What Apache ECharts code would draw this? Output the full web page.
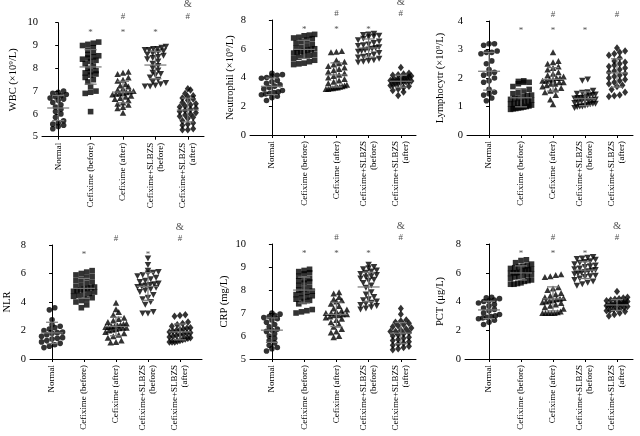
<!DOCTYPE html>
<html>
<head>
<meta charset="utf-8">
<script src="https://cdn.jsdelivr.net/npm/echarts@6/dist/echarts.min.js"></script>
<style>html,body{margin:0;background:#fff}#chart{width:640px;height:436px}</style>
</head>
<body>
<div id="chart"></div>
<script>
/* group labels and markers */
var groups = ['Normal', 'Cefixime (before)', 'Cefixime (after)', 'Cefixime+SLBZS\n(before)', 'Cefixime+SLBZS\n(after)'];
var symbols = ['circle', 'rect', 'triangle', 'triangle', 'diamond'];
var symbolRotates = [0, 0, 0, 180, 0];

/* values: [normal, before, after, slbzs before, slbzs after] */
var wbc = [
  [7.0, 6.95, 6.9, 6.85, 6.8, 6.75, 6.7, 6.65, 6.6, 6.5, 6.4, 6.3, 6.2, 6.1, 6.0, 5.85, 5.7, 5.6, 5.55, 5.5, 5.45, 5.35],
  [9.15, 9.1, 9.05, 9.0, 8.9, 8.8, 8.7, 8.6, 8.55, 8.5, 8.45, 8.4, 8.35, 8.3, 8.2, 8.1, 8.0, 7.9, 7.85, 7.8, 7.75, 7.7, 7.6, 7.5, 7.4, 7.2, 7.0, 6.95, 6.9, 6.1],
  [7.85, 7.8, 7.75, 7.6, 7.5, 7.45, 7.3, 7.25, 7.2, 7.1, 7.05, 7.0, 6.98, 6.95, 6.92, 6.9, 6.88, 6.85, 6.8, 6.75, 6.7, 6.65, 6.6, 6.5, 6.45, 6.4, 6.3, 6.25, 6.05],
  [8.95, 8.9, 8.85, 8.85, 8.8, 8.8, 8.75, 8.7, 8.65, 8.6, 8.55, 8.5, 8.45, 8.4, 8.3, 8.2, 8.1, 8.0, 7.9, 7.8, 7.75, 7.7, 7.6, 7.5, 7.4, 7.35, 7.3, 7.25, 7.2, 7.2],
  [7.1, 7.05, 6.9, 6.8, 6.75, 6.7, 6.65, 6.6, 6.5, 6.45, 6.4, 6.35, 6.3, 6.25, 6.2, 6.15, 6.1, 6.05, 6.0, 5.95, 5.9, 5.85, 5.8, 5.7, 5.6, 5.55, 5.5, 5.35, 5.3, 5.3]
];
var neutrophil = [
  [4.3, 4.2, 4.15, 4.1, 4.0, 3.95, 3.8, 3.7, 3.6, 3.5, 3.4, 3.3, 3.2, 3.1, 3.0, 2.95, 2.9, 2.85, 2.8, 2.7, 2.6, 2.4],
  [7.0, 6.95, 6.9, 6.8, 6.75, 6.7, 6.6, 6.5, 6.4, 6.3, 6.2, 6.1, 6.05, 6.0, 5.95, 5.9, 5.85, 5.8, 5.75, 5.7, 5.6, 5.55, 5.5, 5.4, 5.3, 5.2, 5.1, 5.0, 4.95, 4.9],
  [5.85, 5.8, 5.75, 5.2, 5.1, 5.0, 4.9, 4.8, 4.7, 4.6, 4.5, 4.4, 4.3, 4.2, 4.1, 4.0, 3.9, 3.8, 3.7, 3.6, 3.5, 3.45, 3.4, 3.35, 3.3, 3.3, 3.25, 3.25, 3.2, 3.2],
  [7.05, 7.0, 6.95, 6.9, 6.85, 6.8, 6.7, 6.6, 6.5, 6.4, 6.3, 6.25, 6.2, 6.1, 6.05, 6.0, 5.95, 5.9, 5.85, 5.8, 5.7, 5.6, 5.5, 5.45, 5.4, 5.3, 5.2, 5.15, 5.1, 5.05],
  [4.7, 4.3, 4.25, 4.2, 4.15, 4.1, 4.05, 4.0, 3.95, 3.9, 3.9, 3.85, 3.85, 3.8, 3.8, 3.75, 3.75, 3.7, 3.7, 3.65, 3.6, 3.55, 3.5, 3.45, 3.4, 3.3, 3.2, 3.1, 3.0, 2.75]
];
var lymphocyte = [
  [3.2, 3.2, 3.15, 2.95, 2.9, 2.9, 2.85, 2.6, 2.5, 2.3, 2.2, 2.15, 2.1, 2.0, 1.9, 1.85, 1.6, 1.5, 1.45, 1.4, 1.3, 1.2],
  [1.9, 1.88, 1.85, 1.85, 1.8, 1.7, 1.6, 1.55, 1.5, 1.45, 1.4, 1.38, 1.35, 1.3, 1.28, 1.25, 1.22, 1.2, 1.18, 1.15, 1.12, 1.1, 1.08, 1.05, 1.02, 1.0, 0.98, 0.96, 0.95, 0.93, 0.92, 0.9],
  [2.9, 2.6, 2.55, 2.5, 2.4, 2.35, 2.3, 2.2, 2.15, 2.1, 2.05, 2.0, 2.0, 1.95, 1.95, 1.9, 1.9, 1.85, 1.85, 1.8, 1.8, 1.75, 1.7, 1.65, 1.6, 1.55, 1.5, 1.4, 1.25, 1.08],
  [1.95, 1.9, 1.55, 1.5, 1.48, 1.45, 1.42, 1.4, 1.38, 1.35, 1.32, 1.3, 1.3, 1.28, 1.25, 1.22, 1.2, 1.2, 1.18, 1.15, 1.12, 1.1, 1.1, 1.08, 1.05, 1.03, 1.0, 1.0, 0.98, 0.95],
  [3.05, 2.95, 2.9, 2.85, 2.8, 2.7, 2.6, 2.55, 2.5, 2.45, 2.4, 2.35, 2.3, 2.25, 2.2, 2.15, 2.1, 2.05, 2.0, 1.95, 1.9, 1.85, 1.8, 1.75, 1.7, 1.6, 1.5, 1.4, 1.38, 1.35]
];
var nlr = [
  [3.6, 3.45, 2.75, 2.4, 2.3, 2.2, 2.1, 2.0, 1.9, 1.85, 1.8, 1.7, 1.6, 1.5, 1.45, 1.4, 1.3, 1.2, 1.1, 1.0, 0.9, 0.8],
  [6.2, 6.1, 6.0, 5.9, 5.8, 5.7, 5.6, 5.5, 5.4, 5.3, 5.2, 5.1, 5.05, 5.0, 4.95, 4.9, 4.85, 4.8, 4.75, 4.7, 4.6, 4.5, 4.45, 4.4, 4.3, 4.2, 4.1, 4.0, 3.8, 3.6],
  [3.95, 3.5, 3.3, 3.1, 2.9, 2.8, 2.7, 2.6, 2.5, 2.45, 2.4, 2.35, 2.3, 2.3, 2.25, 2.25, 2.2, 2.2, 2.15, 2.1, 2.05, 2.0, 1.9, 1.8, 1.7, 1.6, 1.5, 1.3, 1.2, 1.15],
  [7.05, 6.6, 6.2, 6.1, 6.05, 6.0, 5.9, 5.8, 5.7, 5.6, 5.5, 5.4, 5.3, 5.25, 5.2, 5.15, 5.1, 5.05, 5.0, 4.9, 4.8, 4.7, 4.5, 4.3, 4.2, 4.0, 3.8, 3.3, 3.2, 3.2],
  [3.1, 3.05, 3.0, 2.6, 2.5, 2.4, 2.3, 2.2, 2.15, 2.1, 2.05, 2.0, 1.95, 1.9, 1.85, 1.8, 1.75, 1.7, 1.65, 1.6, 1.55, 1.5, 1.45, 1.4, 1.35, 1.3, 1.25, 1.2, 1.2, 1.2]
];
var crp = [
  [7.0, 6.95, 6.9, 6.85, 6.8, 6.75, 6.7, 6.6, 6.5, 6.4, 6.3, 6.25, 6.2, 6.1, 6.0, 5.9, 5.8, 5.7, 5.6, 5.5, 5.45, 5.35],
  [8.9, 8.85, 8.8, 8.75, 8.7, 8.6, 8.5, 8.45, 8.4, 8.35, 8.3, 8.2, 8.1, 8.05, 8.0, 7.95, 7.9, 7.85, 7.8, 7.75, 7.7, 7.65, 7.6, 7.55, 7.5, 7.4, 7.15, 7.1, 7.05, 7.0],
  [7.9, 7.85, 7.7, 7.6, 7.55, 7.5, 7.4, 7.3, 7.2, 7.15, 7.1, 7.05, 7.0, 7.0, 6.95, 6.95, 6.9, 6.9, 6.85, 6.8, 6.75, 6.7, 6.6, 6.5, 6.4, 6.3, 6.2, 6.15, 6.0, 5.95],
  [9.1, 9.0, 8.95, 8.9, 8.85, 8.8, 8.75, 8.7, 8.65, 8.6, 8.55, 8.5, 8.45, 8.4, 8.3, 8.2, 8.1, 7.9, 7.8, 7.7, 7.6, 7.55, 7.5, 7.45, 7.4, 7.35, 7.3, 7.25, 7.2, 7.15],
  [7.2, 6.95, 6.7, 6.65, 6.6, 6.55, 6.5, 6.45, 6.4, 6.35, 6.3, 6.25, 6.2, 6.2, 6.15, 6.1, 6.05, 6.0, 5.95, 5.9, 5.85, 5.8, 5.75, 5.7, 5.65, 5.6, 5.55, 5.5, 5.45, 5.4]
];
var pct = [
  [4.3, 4.25, 4.2, 4.1, 4.05, 4.0, 3.9, 3.8, 3.7, 3.55, 3.45, 3.35, 3.2, 3.1, 3.0, 2.95, 2.9, 2.85, 2.8, 2.7, 2.55, 2.4],
  [6.9, 6.85, 6.7, 6.6, 6.5, 6.45, 6.4, 6.35, 6.3, 6.25, 6.2, 6.15, 6.1, 6.05, 6.0, 6.0, 5.95, 5.9, 5.85, 5.8, 5.75, 5.7, 5.6, 5.5, 5.45, 5.4, 5.3, 5.25, 5.2, 5.2],
  [5.9, 5.85, 5.75, 5.7, 5.0, 4.9, 4.8, 4.6, 4.5, 4.4, 4.3, 4.25, 4.2, 4.15, 4.1, 4.05, 4.0, 3.95, 3.9, 3.8, 3.7, 3.6, 3.5, 3.3, 3.25, 3.2, 3.2, 3.2, 3.2, 3.2],
  [7.1, 7.05, 7.0, 6.95, 6.9, 6.8, 6.75, 6.7, 6.6, 6.5, 6.45, 6.4, 6.3, 6.25, 6.2, 6.15, 6.1, 6.05, 6.0, 5.95, 5.9, 5.8, 5.75, 5.7, 5.6, 5.5, 5.4, 5.3, 5.2, 5.1],
  [4.7, 4.3, 4.25, 4.2, 4.15, 4.1, 4.05, 4.0, 3.95, 3.9, 3.9, 3.85, 3.85, 3.8, 3.8, 3.75, 3.75, 3.7, 3.7, 3.65, 3.6, 3.55, 3.5, 3.45, 3.4, 3.35, 3.3, 3.2, 3.1, 3.0]
];

/* significance marks per group: * vs normal, # vs before, & vs cefixime after */
var wbcMarks = ['', '*', '*#', '*', '#&'];
var neutrophilMarks = ['', '*', '*#', '*', '#&'];
var lymphocyteMarks = ['', '*', '*#', '*', '#'];
var nlrMarks = ['', '*', '#', '*', '#&'];
var crpMarks = ['', '*', '*#', '*', '#&'];
var pctMarks = ['', '*', '*#', '*', '#&'];

/* panel layout */
var panels = [
  { name: 'WBC (×10⁹/L)', data: wbc, marks: wbcMarks, min: 5, max: 10, interval: 1,
    left: 42, top: 22.7, width: 162, height: 114, xMin: -0.5, xMax: 4.5, nameGap: 23 },
  { name: 'Neutrophil (×10⁹/L)', data: neutrophil, marks: neutrophilMarks, min: 0, max: 8, interval: 2,
    left: 250, top: 20, width: 166, height: 115, xMin: -0.68, xMax: 4.47, nameGap: 14 },
  { name: 'Lymphocytr (×10⁹/L)', data: lymphocyte, marks: lymphocyteMarks, min: 0, max: 4, interval: 1,
    left: 467, top: 21, width: 166, height: 114, xMin: -0.69, xMax: 4.5, nameGap: 21 },
  { name: 'NLR', data: nlr, marks: nlrMarks, min: 0, max: 8, interval: 2,
    left: 30, top: 245, width: 172, height: 114, xMin: -0.69, xMax: 4.69, nameGap: 17 },
  { name: 'CRP (mg/L)', data: crp, marks: crpMarks, min: 5, max: 10, interval: 1,
    left: 250, top: 244, width: 166, height: 115, xMin: -0.68, xMax: 4.47, nameGap: 20 },
  { name: 'PCT (μg/L)', data: pct, marks: pctMarks, min: 0, max: 8, interval: 2,
    left: 465, top: 244, width: 168, height: 115, xMin: -0.75, xMax: 4.5, nameGap: 19 }
];

var markStyle = {
  '*': { offset: [0, 10], size: 9 },
  '#': { offset: [0, -6.5], size: 9 },
  '&': { offset: [0, -18], size: 10.5 }
};

/* scatter-dot spread: close values share a row and sit side by side */
function swarm(values, pxPerY, rowPx, stepPx, maxPx) {
  var order = values.map(function (v, i) { return i; })
    .sort(function (a, b) { return values[a] - values[b]; });
  var rows = [], cur = null, xs = [];
  order.forEach(function (i) {
    if (!cur || (values[i] - values[cur[0]]) * pxPerY >= rowPx) { cur = []; rows.push(cur); }
    cur.push(i);
  });
  rows.forEach(function (ids) {
    var n = ids.length;
    var step = n > 1 ? Math.min(stepPx, maxPx / (n - 1)) : 0;
    ids.forEach(function (id, j) { xs[id] = (j - (n - 1) / 2) * step; });
  });
  return xs;
}

function meanSd(arr) {
  var m = arr.reduce(function (s, v) { return s + v; }, 0) / arr.length;
  var v = arr.reduce(function (s, x) { return s + (x - m) * (x - m); }, 0) / (arr.length - 1);
  return [m, Math.sqrt(v)];
}

var font = 'Liberation Serif';
var grids = [], xAxes = [], yAxes = [], series = [];

panels.forEach(function (p, pi) {
  grids.push({ left: p.left, top: p.top, width: p.width, height: p.height });
  xAxes.push({
    gridIndex: pi, type: 'value', min: p.xMin, max: p.xMax,
    axisLine: { show: true, lineStyle: { color: '#000', width: 1 } },
    axisTick: { show: true, customValues: [0, 1, 2, 3, 4], length: 3, lineStyle: { color: '#000' } },
    axisLabel: {
      customValues: [0, 1, 2, 3, 4], rotate: 90, margin: 6,
      fontFamily: font, fontSize: 9, lineHeight: 10, color: '#000',
      formatter: function (v) { return groups[Math.round(v)] || ''; }
    },
    splitLine: { show: false }
  });
  yAxes.push({
    gridIndex: pi, type: 'value', min: p.min, max: p.max, interval: p.interval,
    name: p.name, nameLocation: 'middle', nameRotate: 90, nameGap: p.nameGap,
    nameTextStyle: { fontFamily: font, fontSize: 10.5, color: '#000' },
    axisLine: { show: true, lineStyle: { color: '#000', width: 1 } },
    axisTick: { show: true, length: 3, lineStyle: { color: '#000' } },
    axisLabel: { fontFamily: font, fontSize: 10.5, color: '#000', margin: 4 },
    splitLine: { show: false }
  });

  var xPx = p.width / (p.xMax - p.xMin);
  var yPx = p.height / (p.max - p.min);
  var stats = [];

  p.data.forEach(function (vals, g) {
    var offs = swarm(vals, yPx, 4.5, 5.4, 21);
    series.push({
      type: 'scatter', xAxisIndex: pi, yAxisIndex: pi,
      symbol: symbols[g], symbolRotate: symbolRotates[g],
      symbolSize: g === 4 ? [6, 7.5] : (g === 2 || g === 3 ? [6.5, 6] : 5.6),
      itemStyle: { color: '#000' },
      data: vals.map(function (v, i) { return [g + offs[i] / xPx, v]; }),
      z: 2
    });
    var ms = meanSd(vals);
    stats.push([g, ms[0], ms[1]]);
  });

  /* mean ± SD bars */
  series.push({
    type: 'custom', xAxisIndex: pi, yAxisIndex: pi, z: 5,
    data: stats,
    renderItem: function (params, api) {
      var g = api.value(0), m = api.value(1), s = api.value(2);
      var c = api.coord([g, m]), hi = api.coord([g, m + s]), lo = api.coord([g, m - s]);
      var st = { stroke: '#777', lineWidth: 1.2 };
      return {
        type: 'group', children: [
          { type: 'line', shape: { x1: c[0] - 11, y1: c[1], x2: c[0] + 11, y2: c[1] }, style: st },
          { type: 'line', shape: { x1: c[0], y1: hi[1], x2: c[0], y2: lo[1] }, style: st },
          { type: 'line', shape: { x1: c[0] - 6, y1: hi[1], x2: c[0] + 6, y2: hi[1] }, style: st },
          { type: 'line', shape: { x1: c[0] - 6, y1: lo[1], x2: c[0] + 6, y2: lo[1] }, style: st }
        ]
      };
    }
  });

  /* significance marks above the groups */
  ['*', '#', '&'].forEach(function (ch) {
    var pts = [];
    p.marks.forEach(function (m, g) { if (m.indexOf(ch) >= 0) pts.push([g, p.max]); });
    if (!pts.length) return;
    series.push({
      type: 'scatter', xAxisIndex: pi, yAxisIndex: pi, clip: false,
      symbolSize: 1, itemStyle: { color: 'rgba(0,0,0,0)' },
      label: {
        show: true, position: 'inside', offset: markStyle[ch].offset,
        formatter: ch, fontFamily: font, fontSize: markStyle[ch].size, color: '#222'
      },
      data: pts, silent: true
    });
  });
});

var chart = echarts.init(document.getElementById('chart'), null, { renderer: 'canvas' });
chart.setOption({
  animation: false,
  backgroundColor: '#fff',
  grid: grids,
  xAxis: xAxes,
  yAxis: yAxes,
  series: series
});
</script>
</body>
</html>
